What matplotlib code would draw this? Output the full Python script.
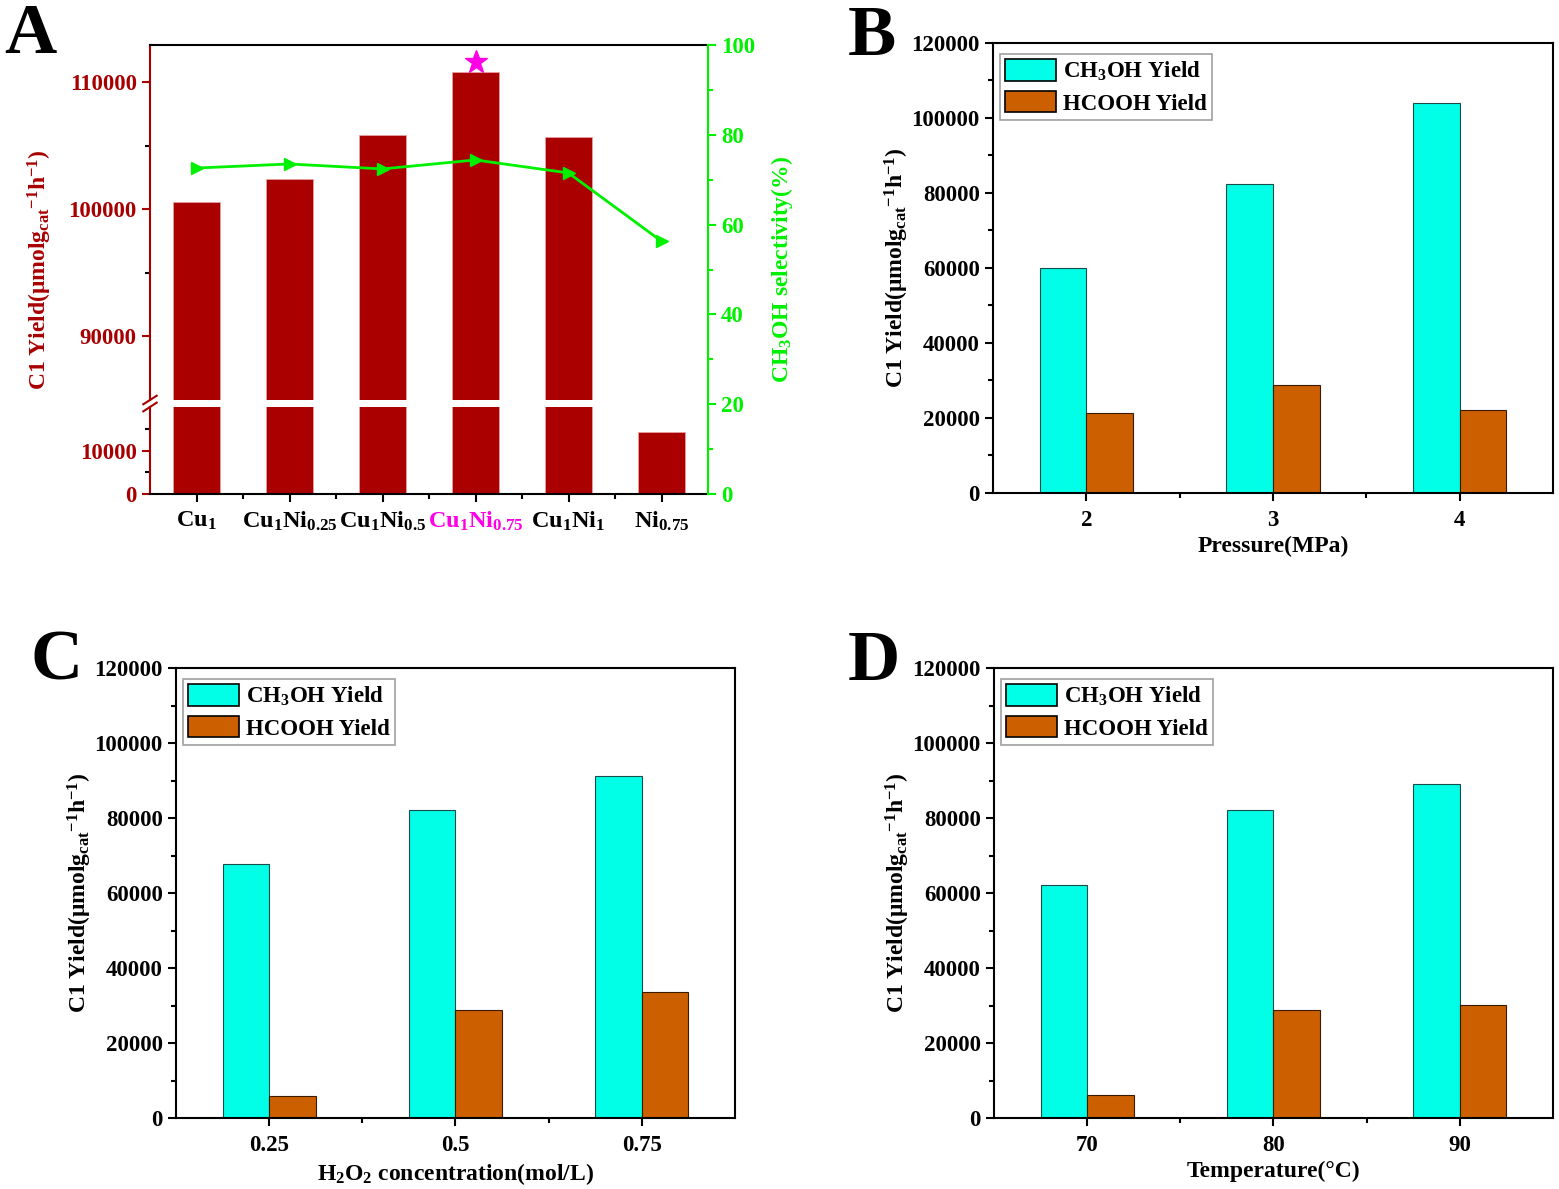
import numpy as np
import matplotlib
matplotlib.use("Agg")
import matplotlib.pyplot as plt
from matplotlib.ticker import MultipleLocator, FixedLocator

plt.rcParams["font.family"] = ["Liberation Serif", "DejaVu Serif"]
plt.rcParams["font.weight"] = "bold"
plt.rcParams["mathtext.fontset"] = "custom"
plt.rcParams["mathtext.rm"] = "Liberation Serif:bold"
plt.rcParams["mathtext.it"] = "Liberation Serif:bold"
plt.rcParams["mathtext.bf"] = "Liberation Serif:bold"
plt.rcParams["mathtext.default"] = "rm"

# ---- data ----
a_labels = ["Cu$_1$", "Cu$_1$Ni$_{0.25}$", "Cu$_1$Ni$_{0.5}$",
            "Cu$_1$Ni$_{0.75}$", "Cu$_1$Ni$_1$", "Ni$_{0.75}$"]
a_yield = [100550, 102350, 105800, 110800, 105650, 14400]
a_select = [72.6, 73.5, 72.4, 74.4, 71.5, 56.3]
a_best = 3

b_labels = ["2", "3", "4"]
b_ch3oh = [60000, 82400, 104000]
b_hcooh = [21300, 28800, 22100]

c_labels = ["0.25", "0.5", "0.75"]
c_ch3oh = [67700, 82100, 91200]
c_hcooh = [5900, 28800, 33600]

d_labels = ["70", "80", "90"]
d_ch3oh = [62100, 82100, 89100]
d_hcooh = [6100, 28800, 30100]

RED = "#A80000"
BAR_RED = "#AA0000"
GREEN = "#00F000"
CYAN = "#00FFE6"
ORANGE = "#CC6000"
FS = 16.5
ylab = "C1 Yield(μmolg$_{cat}$$^{-1}$h$^{-1}$)"

fig = plt.figure(figsize=(15.59, 11.89), dpi=100)
W, H = 1559, 1189


def pos(x0, y0, x1, y1):
    return [x0 / W, 1 - y1 / H, (x1 - x0) / W, (y1 - y0) / H]


def style_ticks(ax, color="black"):
    ax.tick_params(axis="both", which="major", direction="out", length=6,
                   width=1.5, labelsize=FS, colors=color)
    ax.tick_params(axis="both", which="minor", direction="out", length=3.5,
                   width=1.5, colors=color)


# ---- panel A ----
ax_up = fig.add_axes(pos(150, 45, 708, 400))
ax_lo = fig.add_axes(pos(150, 407, 708, 494))
xa = np.arange(len(a_labels))
for ax in (ax_up, ax_lo):
    ax.bar(xa, a_yield, width=0.5, color=BAR_RED, edgecolor="#E8A0A0",
           linewidth=0.6)
    ax.set_xlim(-0.5, 5.5)
    for s in ax.spines.values():
        s.set_linewidth(1.5)
    ax.spines["left"].set_color(RED)
    ax.spines["right"].set_visible(False)
    style_ticks(ax)
    ax.tick_params(axis="y", colors=RED, labelcolor=RED)

ax_up.set_ylim(85000, 112900)
ax_up.yaxis.set_major_locator(FixedLocator([90000, 100000, 110000]))
ax_up.yaxis.set_minor_locator(FixedLocator([95000, 105000]))
ax_up.spines["bottom"].set_visible(False)
ax_up.tick_params(axis="x", which="both", bottom=False, labelbottom=False)
ax_up.plot(a_best, a_yield[a_best] + 800, marker="*", color="#FF00E6",
           markersize=17, clip_on=False)

ax_lo.set_ylim(0, 20200)
ax_lo.yaxis.set_major_locator(FixedLocator([0, 10000]))
ax_lo.yaxis.set_minor_locator(FixedLocator([5000, 15000]))
ax_lo.spines["top"].set_visible(False)
ax_lo.set_xticks(xa)
ax_lo.set_xticklabels(a_labels, fontsize=17.5)
ax_lo.xaxis.set_minor_locator(FixedLocator(xa[:-1] + 0.5))
ax_lo.tick_params(axis="x", colors="black", pad=5)
ax_lo.get_xticklabels()[a_best].set_color("#FF00E6")

# break marks on the left spine
for ax, yy in ((ax_up, 0.0), (ax_lo, 1.0)):
    h = 0.012 if ax is ax_up else 0.05
    ax.plot([-0.012, 0.012], [yy - h, yy + h], transform=ax.transAxes,
            color=RED, lw=1.5, clip_on=False)

ax_up.set_ylabel(ylab, color=RED, fontsize=17, fontweight="bold")
ax_up.yaxis.set_label_coords(-0.172, 0.366)

ax_g = fig.add_axes(pos(150, 45, 708, 494))
ax_g.patch.set_visible(False)
ax_g.plot(xa, a_select, color=GREEN, lw=2, marker=">", markersize=8)
ax_g.set_xlim(-0.5, 5.5)
ax_g.set_ylim(0, 100)
ax_g.yaxis.tick_right()
ax_g.yaxis.set_label_position("right")
ax_g.yaxis.set_major_locator(MultipleLocator(20))
ax_g.yaxis.set_minor_locator(MultipleLocator(10))
for k in ("left", "top", "bottom"):
    ax_g.spines[k].set_visible(False)
ax_g.spines["right"].set_color(GREEN)
ax_g.spines["right"].set_linewidth(1.5)
ax_g.set_xticks([])
style_ticks(ax_g, GREEN)
ax_g.tick_params(axis="y", labelcolor=GREEN)
ax_g.set_ylabel("CH$_3$OH selectivity(%)", color=GREEN, fontsize=17,
                fontweight="bold", labelpad=10)


# ---- panels B-D ----
def yield_panel(rect, labels, ch3oh, hcooh, xlabel):
    ax = fig.add_axes(rect)
    x = np.arange(len(labels))
    ax.bar(x - 0.125, ch3oh, width=0.25, color=CYAN, edgecolor="#1A4A4A",
           linewidth=0.8, label="CH$_3$OH Yield")
    ax.bar(x + 0.125, hcooh, width=0.25, color=ORANGE, edgecolor="#3A1A00",
           linewidth=0.8, label="HCOOH Yield")
    ax.set_xlim(-0.5, 2.5)
    ax.set_ylim(0, 120000)
    ax.set_xticks(x)
    ax.set_xticklabels(labels)
    ax.xaxis.set_minor_locator(FixedLocator(x[:-1] + 0.5))
    ax.yaxis.set_major_locator(MultipleLocator(20000))
    ax.yaxis.set_minor_locator(MultipleLocator(10000))
    for s in ax.spines.values():
        s.set_linewidth(1.5)
    style_ticks(ax)
    ax.tick_params(axis="x", pad=6)
    ax.set_xlabel(xlabel, fontsize=17, fontweight="bold", labelpad=4)
    ax.set_ylabel(ylab, fontsize=17, fontweight="bold", labelpad=0)
    leg = ax.legend(loc="upper left", bbox_to_anchor=(0.005, 0.985),
                    fontsize=FS, handlelength=2.2, handleheight=1.05,
                    labelspacing=0.35, borderpad=0.22, handletextpad=0.3,
                    borderaxespad=0.2, fancybox=False, framealpha=1)
    leg.get_frame().set_edgecolor("#A0A0A0")
    leg.get_frame().set_linewidth(1.2)
    for p in leg.get_patches():
        p.set_edgecolor("black")
        p.set_linewidth(1.2)
    return ax


yield_panel(pos(993, 43, 1553, 493), b_labels, b_ch3oh, b_hcooh,
            "Pressure(MPa)")
yield_panel(pos(176, 668, 735, 1118), c_labels, c_ch3oh, c_hcooh,
            "H$_2$O$_2$ concentration(mol/L)")
yield_panel(pos(994, 668, 1553, 1118), d_labels, d_ch3oh, d_hcooh,
            "Temperature(°C)")

# panel letters
for letter, px, py in (("A", 4, 3), ("B", 848, 5), ("C", 30, 630), ("D", 848, 630)):
    fig.text(px / W, 1 - py / H, letter, fontsize=52, fontweight="bold",
             ha="left", va="top")

fig.savefig("out.png", dpi=100)
